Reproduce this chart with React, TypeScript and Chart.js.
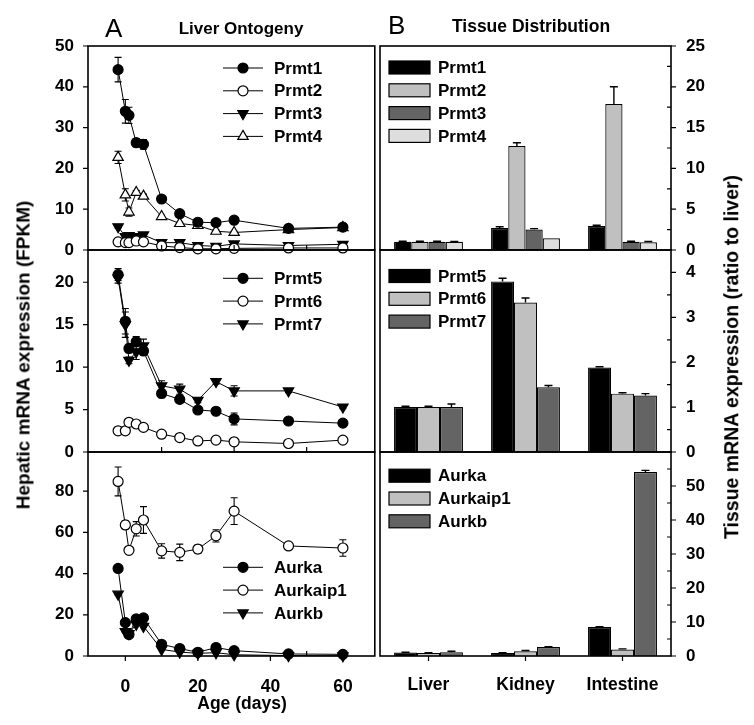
import React, { useEffect, useRef } from 'react';
import { Chart, registerables } from 'chart.js';

Chart.register(...registerables);

const FONT = "'Liberation Sans', Arial, Helvetica, sans-serif";

// ---------------- Liver ontogeny (FPKM) ----------------
const ageDays = [-2, 0, 1, 3, 5, 10, 15, 20, 25, 30, 45, 60];

const prmt1 = [44.2, 34.0, 33.0, 26.3, 25.9, 12.5, 8.9, 6.8, 6.7, 7.3, 5.3, 5.6];
const prmt1Err = [3.0, 2.9, 2.0, 1.0, 1.2, 0.5, 0.4, 0.4, 0.4, 0.4, 0.3, 0.3];
const prmt2 = [2.0, 1.8, 1.8, 2.2, 2.0, 1.0, 0.6, 0.3, 0.3, 0.4, 0.5, 0.5];
const prmt2Err = [0.2, 0.2, 0.2, 0.2, 0.2, 0.1, 0.1, 0.1, 0.1, 0.1, 0.1, 0.1];
const prmt3 = [5.7, 3.3, 3.5, 3.3, 3.7, 1.8, 1.8, 1.1, 0.9, 1.5, 1.1, 1.4];
const prmt3Err = [0.3, 0.3, 0.3, 0.3, 0.3, 0.2, 0.2, 0.1, 0.1, 0.2, 0.1, 0.1];
const prmt4 = [22.7, 13.5, 9.3, 14.1, 13.2, 8.2, 6.5, 6.0, 4.6, 4.3, 5.0, 5.5];
const prmt4Err = [1.5, 1.5, 1.0, 0.5, 0.5, 0.3, 0.3, 0.3, 0.3, 0.3, 0.2, 0.2];

const prmt5 = [20.9, 15.4, 12.2, 13.0, 11.9, 6.9, 6.2, 4.95, 4.8, 3.9, 3.65, 3.4];
const prmt5Err = [0.7, 1.5, 0.5, 0.6, 0.5, 0.5, 0.4, 0.4, 0.3, 0.7, 0.2, 0.2];
const prmt6 = [2.5, 2.5, 3.5, 3.3, 2.9, 2.1, 1.7, 1.3, 1.4, 1.2, 1.0, 1.4];
const prmt6Err = [0.2, 0.2, 0.2, 0.2, 0.2, 0.2, 0.1, 0.1, 0.1, 0.3, 0.1, 0.1];
const prmt7 = [20.5, 15.0, 10.8, 11.8, 12.5, 7.8, 7.4, 6.1, 8.3, 7.2, 7.2, 5.3];
const prmt7Err = [0.6, 1.5, 0.4, 0.9, 0.8, 0.6, 0.6, 0.3, 0.3, 0.6, 0.2, 0.2];

const aurka = [42.5, 16.2, 10.4, 18.0, 18.5, 5.7, 3.6, 1.8, 4.1, 2.6, 1.0, 0.8];
const aurkaErr = [1.0, 1.0, 1.0, 1.0, 1.0, 0.5, 0.5, 0.3, 0.5, 0.3, 0.2, 0.2];
const aurkaip1 = [84.7, 63.6, 51.3, 61.7, 66.0, 51.0, 50.3, 51.9, 58.3, 70.3, 53.4, 52.4];
const aurkaip1Err = [7.0, 2.0, 1.5, 3.5, 6.5, 3.5, 4.0, 2.0, 3.0, 6.5, 1.0, 4.0];
const aurkb = [30.0, 11.8, 10.9, 15.4, 14.4, 3.2, 1.9, 1.3, 1.6, 0.6, 0.2, 0.1];
const aurkbErr = [0.5, 0.5, 0.5, 0.5, 0.5, 0.3, 0.2, 0.2, 0.2, 0.1, 0.1, 0.1];

// ---------------- Tissue distribution (ratio to liver) ----------------
const tissues = ['Liver', 'Kidney', 'Intestine'];

const tPrmt1 = [1.0, 2.7, 2.95];
const tPrmt1Err = [0.08, 0.15, 0.08];
const tPrmt2 = [1.0, 12.75, 17.9];
const tPrmt2Err = [0.08, 0.4, 2.1];
const tPrmt3 = [1.0, 2.5, 1.0];
const tPrmt3Err = [0.08, 0.12, 0.08];
const tPrmt4 = [1.0, 1.43, 0.94];
const tPrmt4Err = [0.05, 0.0, 0.1];

const tPrmt5 = [1.0, 3.8, 1.88];
const tPrmt5Err = [0.02, 0.07, 0.02];
const tPrmt6 = [1.0, 3.33, 1.3];
const tPrmt6Err = [0.02, 0.1, 0.02];
const tPrmt7 = [1.0, 1.44, 1.26];
const tPrmt7Err = [0.07, 0.04, 0.04];

const tAurka = [1.0, 0.9, 8.5];
const tAurkaErr = [0.1, 0.05, 0.1];
const tAurkaip1 = [0.9, 1.4, 1.9];
const tAurkaip1Err = [0.1, 0.2, 0.2];
const tAurkb = [1.1, 2.65, 54.1];
const tAurkbErr = [0.3, 0.1, 0.5];

// ---------------- Tick labels ----------------
const ageTicks = [0, 20, 40, 60];
const ageMinor = [10, 30, 50];
const l1Ticks = [0, 10, 20, 30, 40, 50];
const l2Ticks = [0, 5, 10, 15, 20];
const l3Ticks = [0, 20, 40, 60, 80];
const r1Ticks = [0, 5, 10, 15, 20, 25];
const r1Minor = [2.5, 7.5, 12.5, 17.5, 22.5];
const r2Ticks = [0, 1, 2, 3, 4];
const r2Minor = [0.5, 1.5, 2.5, 3.5];
const r3Ticks = [0, 10, 20, 30, 40, 50];
const r3Minor = [5, 15, 25, 35, 45, 55];

const BLACK = '#000000';
const LIGHT = '#c0c0c0';
const DARK = '#646464';
const PALE = '#dedede';

type Marker = { style: 'circle' | 'triangle'; rot: number; filled: boolean };
const M_FILLED: Marker = { style: 'circle', rot: 0, filled: true };
const M_OPEN: Marker = { style: 'circle', rot: 0, filled: false };
const M_TDOWN: Marker = { style: 'triangle', rot: 180, filled: true };
const M_TUP_OPEN: Marker = { style: 'triangle', rot: 0, filled: false };

function drawMarker(ctx: CanvasRenderingContext2D, m: Marker, x: number, y: number) {
  ctx.save();
  ctx.beginPath();
  if (m.style === 'circle') {
    ctx.arc(x, y, 5, 0, Math.PI * 2);
  } else {
    const r = 6;
    let a = (m.rot * Math.PI) / 180;
    for (let k = 0; k < 3; k++) {
      const px = x + Math.sin(a) * r;
      const py = y - Math.cos(a) * r;
      if (k === 0) ctx.moveTo(px, py);
      else ctx.lineTo(px, py);
      a += (2 * Math.PI) / 3;
    }
    ctx.closePath();
  }
  ctx.fillStyle = m.filled ? '#000' : '#fff';
  ctx.fill();
  ctx.lineWidth = 1.2;
  ctx.strokeStyle = '#000';
  ctx.stroke();
  ctx.restore();
}

type FrameSpec = {
  side: 'left' | 'right';
  yMajor: number[];
  yMinor: number[];
  xMajor: number[];
  xMinor: number[];
};

function framePlugin(spec: FrameSpec) {
  return {
    id: 'frame',
    afterDraw(chart: any) {
      const a = chart.chartArea;
      const ctx: CanvasRenderingContext2D = chart.ctx;
      const ys = chart.scales.y;
      const xs = chart.scales.x;
      ctx.save();
      ctx.strokeStyle = '#000';
      ctx.lineWidth = 1.2;
      ctx.beginPath();
      spec.yMajor.forEach((v) => {
        const y = ys.getPixelForValue(v);
        if (spec.side === 'left') {
          ctx.moveTo(a.left, y);
          ctx.lineTo(a.left - 5, y);
        } else {
          ctx.moveTo(a.right, y);
          ctx.lineTo(a.right + 5, y);
        }
      });
      spec.yMinor.forEach((v) => {
        const y = ys.getPixelForValue(v);
        if (spec.side === 'left') {
          ctx.moveTo(a.left, y);
          ctx.lineTo(a.left + 4, y);
        } else {
          ctx.moveTo(a.right, y);
          ctx.lineTo(a.right - 4, y);
        }
      });
      spec.xMajor.forEach((v) => {
        const x = xs.getPixelForValue(v);
        ctx.moveTo(x, a.bottom);
        ctx.lineTo(x, a.bottom + 5);
      });
      spec.xMinor.forEach((v) => {
        const x = xs.getPixelForValue(v);
        ctx.moveTo(x, a.bottom);
        ctx.lineTo(x, a.bottom - 5);
      });
      ctx.stroke();
      ctx.lineWidth = 1.6;
      ctx.strokeRect(a.left, a.top, a.right - a.left, a.bottom - a.top);
      ctx.restore();
    },
  };
}

function legendPlugin(kind: 'line' | 'bar', dy: number) {
  return {
    id: 'panelLegend',
    afterDraw(chart: any) {
      const a = chart.chartArea;
      const ctx: CanvasRenderingContext2D = chart.ctx;
      ctx.save();
      ctx.font = `bold 17px ${FONT}`;
      ctx.textBaseline = 'middle';
      ctx.textAlign = 'left';
      ctx.fillStyle = '#000';
      chart.data.datasets.forEach((ds: any, i: number) => {
        const y = a.top + dy + i * 22.8;
        if (kind === 'line') {
          const x0 = a.left + 135;
          ctx.beginPath();
          ctx.strokeStyle = '#000';
          ctx.lineWidth = 1;
          ctx.moveTo(x0, y);
          ctx.lineTo(x0 + 40, y);
          ctx.stroke();
          drawMarker(ctx, ds.marker, x0 + 20, y);
          ctx.fillStyle = '#000';
          ctx.fillText(ds.label, x0 + 51, y + 1);
        } else {
          const x0 = a.left + 9;
          ctx.fillStyle = ds.backgroundColor;
          ctx.fillRect(x0, y - 6.5, 41, 13);
          ctx.strokeStyle = '#000';
          ctx.lineWidth = 1.2;
          ctx.strokeRect(x0, y - 6.5, 41, 13);
          ctx.fillStyle = '#000';
          ctx.fillText(ds.label, a.left + 58, y + 1);
        }
      });
      ctx.restore();
    },
  };
}

function errorPlugin(kind: 'line' | 'bar') {
  const draw = (chart: any) => {
    const ctx: CanvasRenderingContext2D = chart.ctx;
    const ys = chart.scales.y;
    ctx.save();
    ctx.strokeStyle = '#000';
    ctx.lineWidth = kind === 'bar' ? 1.4 : 1.1;
    chart.data.datasets.forEach((ds: any, di: number) => {
      const meta = chart.getDatasetMeta(di);
      if (!ds.err) return;
      meta.data.forEach((el: any, i: number) => {
        const e = ds.err[i];
        if (!e) return;
        const v = kind === 'line' ? ds.data[i].y : ds.data[i];
        const x = el.x;
        const yTop = ys.getPixelForValue(v + e);
        const yBot = kind === 'line' ? ys.getPixelForValue(Math.max(v - e, 0)) : el.y;
        const cap = kind === 'bar' ? 4 : 3.5;
        ctx.beginPath();
        ctx.moveTo(x, yBot);
        ctx.lineTo(x, yTop);
        ctx.moveTo(x - cap, yTop);
        ctx.lineTo(x + cap, yTop);
        if (kind === 'line') {
          ctx.moveTo(x - cap, yBot);
          ctx.lineTo(x + cap, yBot);
        }
        ctx.stroke();
      });
    });
    ctx.restore();
  };
  return kind === 'line'
    ? { id: 'errBars', beforeDatasetsDraw: draw }
    : { id: 'errBars', afterDatasetsDraw: draw };
}

const yTickFont = { family: FONT, size: 17, weight: 'bold' as const };
const xTickFont = { family: FONT, size: 17.5, weight: 'bold' as const };

type LineSeries = { label: string; values: number[]; err: number[]; marker: Marker };

function lineConfig(
  series: LineSeries[],
  yMax: number,
  yTicks: number[],
  showX: boolean,
  padding: any,
  legendDy: number
) {
  return {
    type: 'line',
    data: {
      datasets: series.map((s) => ({
        label: s.label,
        data: ageDays.map((x, i) => ({ x, y: s.values[i] })),
        err: s.err,
        marker: s.marker,
        borderColor: '#000',
        borderWidth: 1,
        pointStyle: s.marker.style,
        pointRotation: s.marker.rot,
        pointRadius: s.marker.style === 'circle' ? 5 : 6,
        pointBackgroundColor: s.marker.filled ? '#000' : '#fff',
        pointBorderColor: '#000',
        pointBorderWidth: 1.2,
        clip: false,
        tension: 0,
        fill: false,
      })),
    },
    options: {
      animation: false,
      responsive: false,
      devicePixelRatio: 1,
      layout: { padding },
      plugins: { legend: { display: false }, tooltip: { enabled: false } },
      scales: {
        x: {
          type: 'linear',
          min: -10.3,
          max: 68.8,
          display: showX,
          afterBuildTicks: (s: any) => {
            s.ticks = ageTicks.map((v) => ({ value: v }));
          },
          afterFit: (s: any) => {
            if (showX) s.height = 69;
          },
          ticks: { font: xTickFont, color: '#000', padding: 13, maxRotation: 0, autoSkip: false },
          grid: { display: false },
          border: { display: false },
        },
        y: {
          type: 'linear',
          min: 0,
          max: yMax,
          afterBuildTicks: (s: any) => {
            s.ticks = yTicks.map((v) => ({ value: v }));
          },
          afterFit: (s: any) => {
            s.width = 88;
          },
          ticks: { font: yTickFont, color: '#000', padding: 6 },
          grid: { display: false },
          border: { display: false },
        },
      },
    },
    plugins: [
      errorPlugin('line'),
      framePlugin({
        side: 'left',
        yMajor: yTicks,
        yMinor: [],
        xMajor: showX ? ageTicks : [],
        xMinor: ageMinor,
      }),
      legendPlugin('line', legendDy),
    ],
  };
}

type BarSeries = { label: string; values: number[]; err: number[]; color: string };

function barConfig(
  series: BarSeries[],
  yMax: number,
  yTicks: number[],
  yMinor: number[],
  showX: boolean,
  padding: any,
  legendDy: number
) {
  return {
    type: 'bar',
    data: {
      labels: tissues,
      datasets: series.map((s) => ({
        label: s.label,
        data: s.values,
        err: s.err,
        backgroundColor: s.color,
        borderColor: '#000',
        borderWidth: 1.2,
        borderSkipped: 'bottom',
        categoryPercentage: 0.71,
        barPercentage: 1,
      })),
    },
    options: {
      animation: false,
      responsive: false,
      devicePixelRatio: 1,
      layout: { padding },
      plugins: { legend: { display: false }, tooltip: { enabled: false } },
      scales: {
        x: {
          type: 'category',
          offset: true,
          display: showX,
          afterFit: (s: any) => {
            if (showX) s.height = 69;
          },
          ticks: { font: xTickFont, color: '#000', padding: 11, maxRotation: 0 },
          grid: { display: false },
          border: { display: false },
        },
        y: {
          type: 'linear',
          position: 'right',
          min: 0,
          max: yMax,
          afterBuildTicks: (s: any) => {
            s.ticks = yTicks.map((v) => ({ value: v }));
          },
          afterFit: (s: any) => {
            s.width = 83;
          },
          ticks: { font: yTickFont, color: '#000', padding: 7 },
          grid: { display: false },
          border: { display: false },
        },
      },
    },
    plugins: [
      errorPlugin('bar'),
      framePlugin({
        side: 'right',
        yMajor: yTicks,
        yMinor,
        xMajor: showX ? [0, 1, 2] : [],
        xMinor: [],
      }),
      legendPlugin('bar', legendDy),
    ],
  };
}

type Box = { left: number; top: number; width: number; height: number };

function ChartCanvas({ box, build }: { box: Box; build: () => any }) {
  const ref = useRef<HTMLCanvasElement | null>(null);
  useEffect(() => {
    if (!ref.current) return;
    const chart = new Chart(ref.current, build());
    return () => chart.destroy();
  }, []);
  return (
    <div style={{ position: 'absolute', left: box.left, top: box.top, width: box.width, height: box.height }}>
      <canvas
        ref={ref}
        width={box.width}
        height={box.height}
        style={{ width: box.width, height: box.height, display: 'block' }}
      />
    </div>
  );
}

const textBase: React.CSSProperties = {
  position: 'absolute',
  whiteSpace: 'nowrap',
  color: '#000',
  fontFamily: FONT,
};

export default function App() {
  const L = { left: 0, width: 382 };
  const R = { left: 376, width: 378 };
  return (
    <div
      style={{
        position: 'fixed',
        left: 0,
        top: 0,
        width: 754,
        height: 725,
        background: '#fff',
        overflow: 'hidden',
      }}
    >
      <ChartCanvas
        box={{ ...L, top: 20, height: 250 }}
        build={() =>
          lineConfig(
            [
              { label: 'Prmt1', values: prmt1, err: prmt1Err, marker: M_FILLED },
              { label: 'Prmt2', values: prmt2, err: prmt2Err, marker: M_OPEN },
              { label: 'Prmt3', values: prmt3, err: prmt3Err, marker: M_TDOWN },
              { label: 'Prmt4', values: prmt4, err: prmt4Err, marker: M_TUP_OPEN },
            ],
            50,
            l1Ticks,
            false,
            { top: 26, bottom: 20, left: 0, right: 3 },
            22
          )
        }
      />
      <ChartCanvas
        box={{ ...L, top: 230, height: 242 }}
        build={() =>
          lineConfig(
            [
              { label: 'Prmt5', values: prmt5, err: prmt5Err, marker: M_FILLED },
              { label: 'Prmt6', values: prmt6, err: prmt6Err, marker: M_OPEN },
              { label: 'Prmt7', values: prmt7, err: prmt7Err, marker: M_TDOWN },
            ],
            23.8,
            l2Ticks,
            false,
            { top: 20, bottom: 20, left: 0, right: 3 },
            28.3
          )
        }
      />
      <ChartCanvas
        box={{ ...L, top: 432, height: 293 }}
        build={() =>
          lineConfig(
            [
              { label: 'Aurka', values: aurka, err: aurkaErr, marker: M_FILLED },
              { label: 'Aurkaip1', values: aurkaip1, err: aurkaip1Err, marker: M_OPEN },
              { label: 'Aurkb', values: aurkb, err: aurkbErr, marker: M_TDOWN },
            ],
            99,
            l3Ticks,
            true,
            { top: 20, bottom: 0, left: 0, right: 3 },
            115.3
          )
        }
      />
      <ChartCanvas
        box={{ ...R, top: 20, height: 250 }}
        build={() =>
          barConfig(
            [
              { label: 'Prmt1', values: tPrmt1, err: tPrmt1Err, color: BLACK },
              { label: 'Prmt2', values: tPrmt2, err: tPrmt2Err, color: LIGHT },
              { label: 'Prmt3', values: tPrmt3, err: tPrmt3Err, color: DARK },
              { label: 'Prmt4', values: tPrmt4, err: tPrmt4Err, color: PALE },
            ],
            25,
            r1Ticks,
            r1Minor,
            false,
            { top: 26, bottom: 20, left: 4, right: 0 },
            21.5
          )
        }
      />
      <ChartCanvas
        box={{ ...R, top: 230, height: 242 }}
        build={() =>
          barConfig(
            [
              { label: 'Prmt5', values: tPrmt5, err: tPrmt5Err, color: BLACK },
              { label: 'Prmt6', values: tPrmt6, err: tPrmt6Err, color: LIGHT },
              { label: 'Prmt7', values: tPrmt7, err: tPrmt7Err, color: DARK },
            ],
            4.5,
            r2Ticks,
            r2Minor,
            false,
            { top: 20, bottom: 20, left: 4, right: 0 },
            26
          )
        }
      />
      <ChartCanvas
        box={{ ...R, top: 432, height: 293 }}
        build={() =>
          barConfig(
            [
              { label: 'Aurka', values: tAurka, err: tAurkaErr, color: BLACK },
              { label: 'Aurkaip1', values: tAurkaip1, err: tAurkaip1Err, color: LIGHT },
              { label: 'Aurkb', values: tAurkb, err: tAurkbErr, color: DARK },
            ],
            60,
            r3Ticks,
            r3Minor,
            true,
            { top: 20, bottom: 0, left: 4, right: 0 },
            23.7
          )
        }
      />

      <div style={{ ...textBase, left: 105, top: 14.6, fontSize: 26, lineHeight: '26px' }}>A</div>
      <div style={{ ...textBase, left: 388, top: 11.6, fontSize: 26, lineHeight: '26px' }}>B</div>
      <div
        style={{
          ...textBase,
          left: 241,
          top: 20,
          fontSize: 17,
          lineHeight: '17px',
          fontWeight: 'bold',
          transform: 'translateX(-50%)',
        }}
      >
        Liver Ontogeny
      </div>
      <div
        style={{
          ...textBase,
          left: 531,
          top: 18.4,
          fontSize: 17.5,
          lineHeight: '17.5px',
          fontWeight: 'bold',
          transform: 'translateX(-50%)',
        }}
      >
        Tissue Distribution
      </div>
      <div
        style={{
          ...textBase,
          left: 242,
          top: 694.8,
          fontSize: 17.5,
          lineHeight: '17.5px',
          fontWeight: 'bold',
          transform: 'translateX(-50%)',
        }}
      >
        Age (days)
      </div>
      <div
        style={{
          ...textBase,
          left: 22.5,
          top: 355,
          fontSize: 19,
          lineHeight: '19px',
          fontWeight: 'bold',
          transform: 'translate(-50%, -50%) rotate(-90deg)',
        }}
      >
        Hepatic mRNA expression (FPKM)
      </div>
      <div
        style={{
          ...textBase,
          left: 731.5,
          top: 357,
          fontSize: 19.5,
          lineHeight: '19.5px',
          fontWeight: 'bold',
          transform: 'translate(-50%, -50%) rotate(-90deg)',
        }}
      >
        Tissue mRNA expression (ratio to liver)
      </div>
    </div>
  );
}
